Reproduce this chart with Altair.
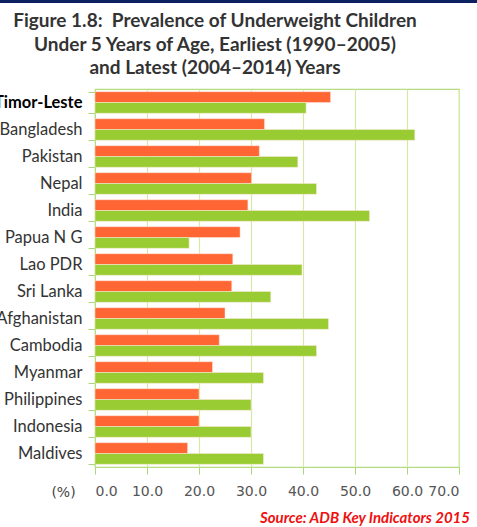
import altair as alt
import pandas as pd

countries = ["Timor-Leste", "Bangladesh", "Pakistan", "Nepal", "India", "Papua N G",
             "Lao PDR", "Sri Lanka", "Afghanistan", "Cambodia", "Myanmar",
             "Philippines", "Indonesia", "Maldives"]
latest = [45.3, 32.6, 31.6, 30.1, 29.4, 27.9, 26.5, 26.3, 25.0, 23.9, 22.6, 20.0, 20.0, 17.8]
earliest = [40.6, 61.5, 39.0, 42.6, 52.8, 18.1, 39.8, 33.8, 44.9, 42.6, 32.4, 30.0, 30.0, 32.4]
series = ["Latest", "Earliest"]
colors = ["#FF6633", "#99CC33"]
x_ticks = [0, 10, 20, 30, 40, 50, 60, 70]
title_lines = ["Figure 1.8:\u00a0 Prevalence of Underweight Children",
               "Under 5 Years of Age, Earliest (1990–2005)",
               "and Latest (2004–2014) Years"]

rows = []
for c, l, e in zip(countries, latest, earliest):
    rows.append({"country": c, "series": "Latest", "value": l})
    rows.append({"country": c, "series": "Earliest", "value": e})
df = pd.DataFrame(rows)

bars = alt.Chart(df).mark_bar(stroke="#FFE8DD", strokeWidth=0.5).encode(
    y=alt.Y("country:N", sort=countries,
            scale=alt.Scale(paddingInner=0.2, paddingOuter=0.1),
            axis=alt.Axis(title=None, tickBand="extent", ticks=True, tickSize=7,
                          tickColor="#A8D878", domainColor="#B5DC80",
                          labelFontSize=16.5, labelFont="Lato", labelPadding=6,
                          labelColor=alt.ExprRef("datum.value == 'Timor-Leste' ? '#000000' : '#333333'"),
                          labelFontWeight=alt.ExprRef("datum.value == 'Timor-Leste' ? 'bold' : 'normal'"),
                          grid=False)),
    yOffset=alt.YOffset("series:N", sort=series),
    x=alt.X("value:Q", scale=alt.Scale(domain=[0, 70], nice=False),
            axis=alt.Axis(values=x_ticks, format=".1f", title="(%)",
                          titleX=-32, titleY=25, titleAlign="center", titleBaseline="middle",
                          titleFontWeight="normal", titleFontSize=14, titleFont="DejaVu Sans",
                          titleColor="#444444", labelOverlap=False,
                          labelFontSize=14, labelFont="DejaVu Sans", labelColor="#555555",
                          labelPadding=10, tickSize=7, tickColor="#A8D878",
                          domainColor="#B5DC80", gridColor="#D6E8A8", gridWidth=1.2)),
    color=alt.Color("series:N", scale=alt.Scale(domain=series, range=colors), legend=None),
)

one = alt.Data(values=[{"a": 1}])

strip = alt.Chart(one).mark_rect(color="#0B2160").encode(
    x=alt.value(-95), x2=alt.value(382), y=alt.value(-89), y2=alt.value(-86)
)

title_layers = []
for i, line in enumerate(title_lines):
    title_layers.append(
        alt.Chart(one).mark_text(
            text=line, align="center", baseline="alphabetic", fontSize=19,
            fontWeight="bold", font="Lato", color="#333333"
        ).encode(x=alt.value(120), y=alt.value(-62 + 23.5 * i))
    )

source = alt.Chart(one).mark_text(
    text="Source: ADB Key Indicators 2015", align="right", baseline="alphabetic",
    fontSize=15, fontStyle="italic", fontWeight="bold", color="#EE1111", font="Lato"
).encode(x=alt.value(375), y=alt.value(434))

chart = alt.layer(bars, strip, source, *title_layers).properties(
    width=364, height=378,
    autosize=alt.AutoSizeParams(type="none"),
    padding={"left": 95, "top": 89, "right": 18, "bottom": 60},
).configure_view(stroke="#B5DC80", strokeWidth=1.2)

chart.save("out.html", embed_options={"renderer": "svg", "actions": False})
